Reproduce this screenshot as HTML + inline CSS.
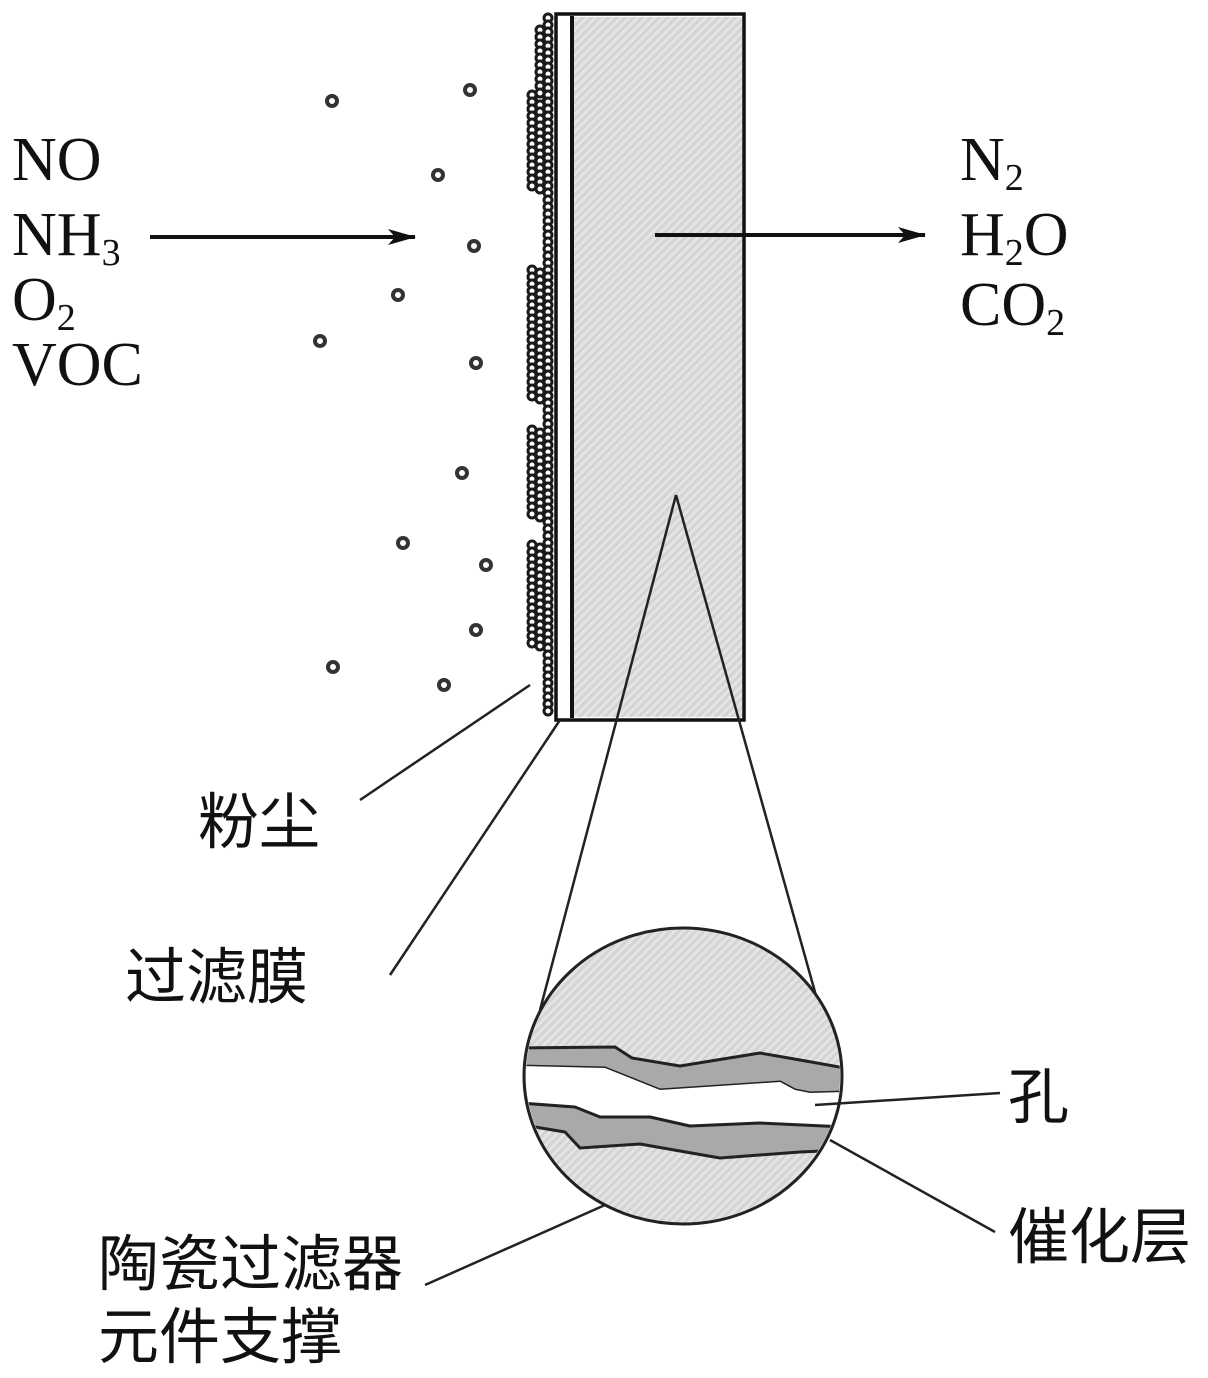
<!DOCTYPE html>
<html><head><meta charset="utf-8"><style>
body{margin:0;background:#fff;}
svg{display:block}
.t{font-family:"Liberation Serif",serif;font-size:62px;fill:#111}
.s{font-size:38px}
.c{font-family:"Liberation Sans","Noto Sans CJK SC",sans-serif;font-size:61px;fill:#111}
</style></head><body>
<svg id="g" width="1208" height="1378" viewBox="0 0 1208 1378" xmlns="http://www.w3.org/2000/svg">
<defs>
<pattern id="h" width="6" height="6" patternUnits="userSpaceOnUse" patternTransform="rotate(45)">
<rect width="6" height="6" fill="#d4d4d4"/><rect width="3" height="6" fill="#e4e4e4"/>
</pattern>
<marker id="a" markerWidth="28" markerHeight="16" refX="27" refY="8" orient="auto" markerUnits="userSpaceOnUse" viewBox="0 0 28 16">
<path d="M0,0 L28,8 L0,16 L7,8 Z" fill="#111"/></marker>
</defs>
<rect x="556" y="14" width="188" height="706" fill="#fff" stroke="#111" stroke-width="3.5"/>
<rect x="574" y="17" width="168" height="700" fill="url(#h)"/>
<line x1="572" y1="16" x2="572" y2="718" stroke="#111" stroke-width="4"/>
<g id="dust" fill="#fff" stroke="#1a1a1a" stroke-width="3"></g>
<g fill="#fff" stroke="#333" stroke-width="4">
<circle cx="332" cy="101" r="5"/><circle cx="470" cy="90" r="5"/><circle cx="438" cy="175" r="5"/><circle cx="474" cy="246" r="5"/><circle cx="398" cy="295" r="5"/><circle cx="320" cy="341" r="5"/><circle cx="476" cy="363" r="5"/><circle cx="462" cy="473" r="5"/><circle cx="403" cy="543" r="5"/><circle cx="486" cy="565" r="5"/><circle cx="476" cy="630" r="5"/><circle cx="333" cy="667" r="5"/><circle cx="444" cy="685" r="5"/>
</g>
<line x1="150" y1="237" x2="415" y2="237" stroke="#111" stroke-width="4" marker-end="url(#a)"/>
<line x1="655" y1="235" x2="925" y2="235" stroke="#111" stroke-width="4" marker-end="url(#a)"/>
<g stroke="#222" stroke-width="2.5" fill="none">
<line x1="676" y1="495" x2="540" y2="1010"/><line x1="676" y1="495" x2="820" y2="1010"/>
<line x1="360" y1="800" x2="530" y2="685"/>
<line x1="390" y1="975" x2="560" y2="720"/>
</g>
<ellipse cx="683" cy="1076" rx="159" ry="148" fill="url(#h)" stroke="#222" stroke-width="3"/>
<clipPath id="cc"><ellipse cx="683" cy="1076" rx="157" ry="146"/></clipPath>
<g clip-path="url(#cc)" stroke="#222" stroke-width="3" stroke-linejoin="round">
<path d="M520,1048 L615,1047 L632,1058 L680,1066 L760,1053 L800,1060 L845,1068 L845,1092 L810,1093 L795,1090 L780,1082 L690,1088 L660,1090 L605,1068 L520,1066 Z" fill="#a9a9a9"/>
<path d="M520,1066 L605,1068 L660,1090 L690,1088 L780,1082 L795,1090 L810,1093 L845,1092 L845,1127 L760,1123 L690,1126 L650,1117 L600,1117 L575,1107 L520,1103 Z" fill="#fff" stroke="none"/>
<path d="M520,1103 L575,1107 L600,1117 L650,1117 L690,1126 L760,1123 L845,1127 L845,1150 L800,1152 L720,1158 L640,1144 L580,1148 L565,1132 L535,1127 L520,1126 Z" fill="#a9a9a9"/>
</g>
<g stroke="#222" stroke-width="2.5">
<line x1="815" y1="1105" x2="1000" y2="1093"/>
<line x1="830" y1="1140" x2="995" y2="1232"/>
<line x1="425" y1="1285" x2="605" y2="1205"/>
</g>
<text class="t" x="12" y="180">NO</text>
<text class="t" x="12" y="255">NH<tspan class="s" dy="10">3</tspan></text>
<text class="t" x="12" y="320">O<tspan class="s" dy="10">2</tspan></text>
<text class="t" x="12" y="385">VOC</text>
<text class="t" x="960" y="180">N<tspan class="s" dy="10">2</tspan></text>
<text class="t" x="960" y="255">H<tspan class="s" dy="10">2</tspan><tspan dy="-10">O</tspan></text>
<text class="t" x="960" y="325">CO<tspan class="s" dy="10">2</tspan></text>
<text class="c" x="198" y="843">粉尘</text>
<text class="c" x="125" y="998">过滤膜</text>
<text class="c" x="1008" y="1118">孔</text>
<text class="c" x="1008" y="1258">催化层</text>
<text class="c" x="98" y="1285">陶瓷过滤器</text>
<text class="c" x="98" y="1358">元件支撑</text>
</svg>
<script>
var g=document.getElementById('dust'),s='';
for(var y=18;y<715;y+=7){s+='<circle cx="548" cy="'+y+'" r="4"/>';}
var seg=[[95,190],[270,400],[430,520],[545,650]];
seg.forEach(function(r){for(var y=r[0];y<r[1];y+=7){s+='<circle cx="540" cy="'+(y+3)+'" r="4"/><circle cx="532" cy="'+y+'" r="4"/>';}});
for(var y=30;y<95;y+=7){s+='<circle cx="540" cy="'+y+'" r="4"/>';}
g.innerHTML=s;
</script>
</body></html>
